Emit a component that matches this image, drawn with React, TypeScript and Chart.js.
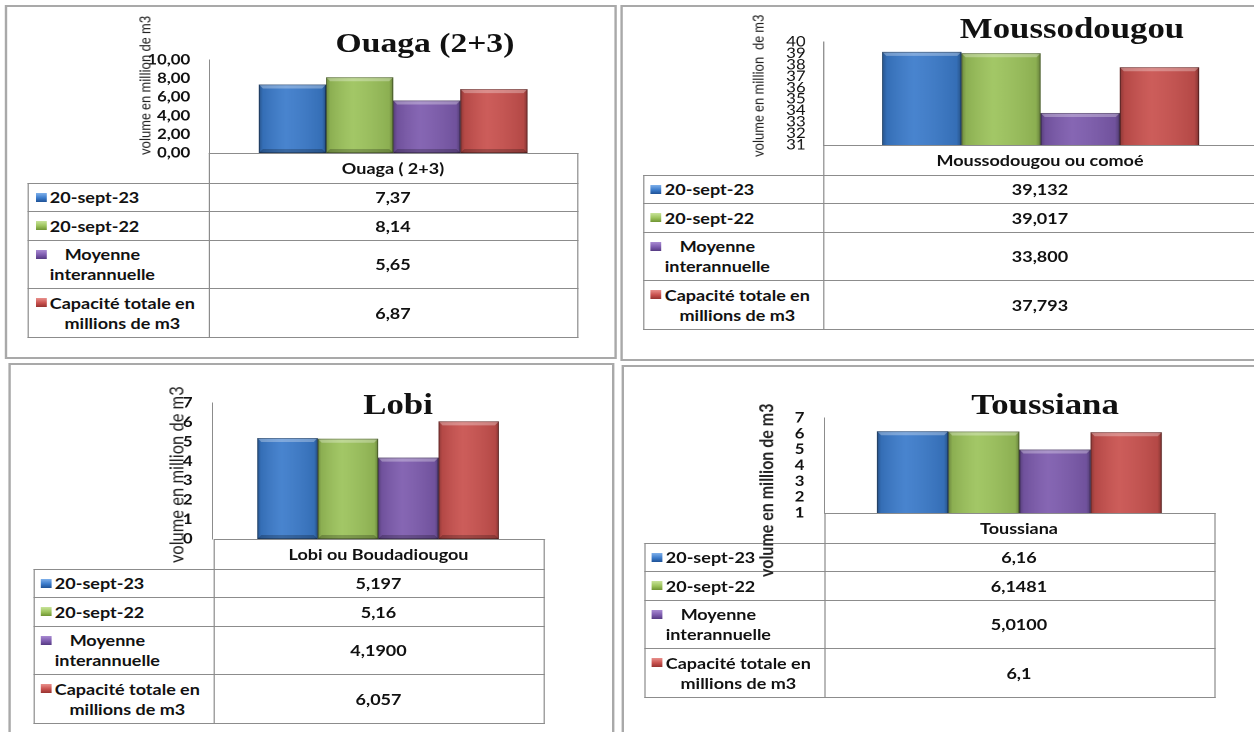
import React, { useEffect, useRef } from 'react';
import { Chart, registerables } from 'chart.js';

Chart.register(...registerables);

// The sheet is laid out narrow and stretched sideways as a whole.
const S = 1.2;

const seriesNames: string[][] = [
  ['20-sept-23'],
  ['20-sept-22'],
  ['Moyenne', 'interannuelle'],
  ['Capacité totale en', 'millions de m3'],
];
const seriesColors = ['#3b7bcb', '#9cc35b', '#7d5bae', '#c9514e'];
const keyTop = ['#7fb0ea', '#c8e39a', '#a98bd2', '#e8908c'];
const keyBottom = ['#1f5296', '#6f9433', '#553a82', '#973330'];

const ouagaValues = [7.37, 8.14, 5.65, 6.87];
const ouagaDecimals = [2, 2, 2, 2];
const ouagaTicks = [0, 2, 4, 6, 8, 10];

const moussoValues = [39.132, 39.017, 33.8, 37.793];
const moussoDecimals = [3, 3, 3, 3];
const moussoTicks = [31, 32, 33, 34, 35, 36, 37, 38, 39, 40];

const lobiValues = [5.197, 5.16, 4.19, 6.057];
const lobiDecimals = [3, 2, 4, 3];
const lobiTicks = [0, 1, 2, 3, 4, 5, 6, 7];

const toussianaValues = [6.16, 6.1481, 5.01, 6.1];
const toussianaDecimals = [2, 4, 4, 1];
const toussianaTicks = [1, 2, 3, 4, 5, 6, 7];

const ROW_H = [30, 28, 29, 48, 49];
// Room above and below the plot for the end tick labels plus their padding.
const PAD_T = 30;
const PAD_B = 30;

type PanelSpec = {
  id: string;
  title: string;
  category: string;
  yTitle: string;
  values: number[];
  decimals: number[];
  ticks: number[];
  tickDecimals: number;
  tickSize: number;
  tickWeight: string;
  tickPad: number;
  frame: [number, number, number, number];
  axisX: number;
  right: number;
  tableLeft: number;
  axisTop: number;
  zeroY: number;
  titleX: number;
  titleBase: number;
  titleSize: number;
  yTitleX: number;
  yTitleBottom: number;
  yTitleSize: number;
  yTitleWeight: number;
};

const panels: PanelSpec[] = [
  {
    id: 'ouaga', title: 'Ouaga (2+3)', category: 'Ouaga ( 2+3)', yTitle: 'volume en million de m3',
    values: ouagaValues, decimals: ouagaDecimals, ticks: ouagaTicks, tickDecimals: 2,
    tickSize: 14, tickWeight: 'bold', tickPad: 19,
    frame: [5, 5, 617, 359], axisX: 209, right: 577, tableLeft: 28, axisTop: 60, zeroY: 153,
    titleX: 425, titleBase: 50, titleSize: 28,
    yTitleX: 144.5, yTitleBottom: 155, yTitleSize: 13, yTitleWeight: 400,
  },
  {
    id: 'mousso', title: 'Moussodougou', category: 'Moussodougou ou comoé', yTitle: 'volume en million  de m3',
    values: moussoValues, decimals: moussoDecimals, ticks: moussoTicks, tickDecimals: 0,
    tickSize: 14, tickWeight: 'normal', tickPad: 18,
    frame: [620, 5, 1266, 361], axisX: 823, right: 1257, tableLeft: 643, axisTop: 42, zeroY: 145,
    titleX: 1072, titleBase: 36, titleSize: 29,
    yTitleX: 757, yTitleBottom: 157, yTitleSize: 13, yTitleWeight: 400,
  },
  {
    id: 'lobi', title: 'Lobi', category: 'Lobi ou Boudadiougou', yTitle: 'volume en million de m3',
    values: lobiValues, decimals: lobiDecimals, ticks: lobiTicks, tickDecimals: 0,
    tickSize: 14, tickWeight: 'bold', tickPad: 20,
    frame: [8, 363, 615, 745], axisX: 213, right: 544, tableLeft: 33, axisTop: 403, zeroY: 539,
    titleX: 398, titleBase: 412, titleSize: 29,
    yTitleX: 176.5, yTitleBottom: 563, yTitleSize: 16.5, yTitleWeight: 400,
  },
  {
    id: 'toussiana', title: 'Toussiana', category: 'Toussiana', yTitle: 'volume en million de m3',
    values: toussianaValues, decimals: toussianaDecimals, ticks: toussianaTicks, tickDecimals: 0,
    tickSize: 14, tickWeight: 'bold', tickPad: 20,
    frame: [622, 365, 1266, 745], axisX: 824, right: 1214, tableLeft: 644, axisTop: 418, zeroY: 513,
    titleX: 1045, titleBase: 412, titleSize: 29,
    yTitleX: 766, yTitleBottom: 577, yTitleSize: 16, yTitleWeight: 700,
  },
];

const fmt = (v: number, d: number) => v.toFixed(d).replace('.', ',');
const X = (x: number) => x / S;

const TABLE_FONT = 'Lato, "Open Sans", sans-serif';
const LINE = '#8c8c8c';

// Shades each bar like a bevelled Office column: dark sides, light top edge, dark foot.
const bevelPlugin = {
  id: 'bevelBars',
  afterDatasetsDraw(chart: any) {
    const ctx: CanvasRenderingContext2D = chart.ctx;
    const area = chart.chartArea;
    ctx.save();
    ctx.beginPath();
    ctx.rect(area.left, area.top, area.right - area.left, area.bottom - area.top);
    ctx.clip();
    chart.data.datasets.forEach((_: any, di: number) => {
      const meta = chart.getDatasetMeta(di);
      meta.data.forEach((el: any) => {
        const { x, y, base, width } = el.getProps(['x', 'y', 'base', 'width'], true);
        const l = x - width / 2;
        const r = x + width / 2;
        const t = Math.min(y, base);
        const b = Math.max(y, base);
        const w = r - l;
        const h = b - t;
        const g = ctx.createLinearGradient(l, 0, r, 0);
        g.addColorStop(0, 'rgba(0,0,0,0.30)');
        g.addColorStop(0.06, 'rgba(0,0,0,0.10)');
        g.addColorStop(0.4, 'rgba(255,255,255,0.07)');
        g.addColorStop(0.94, 'rgba(0,0,0,0.10)');
        g.addColorStop(1, 'rgba(0,0,0,0.34)');
        ctx.fillStyle = g;
        ctx.fillRect(l, t, w, h);
        const bv = Math.min(4, h / 3);
        const bx = bv / S;
        ctx.fillStyle = 'rgba(255,255,255,0.30)';
        ctx.beginPath();
        ctx.moveTo(l, t);
        ctx.lineTo(r, t);
        ctx.lineTo(r - bx, t + bv);
        ctx.lineTo(l + bx, t + bv);
        ctx.closePath();
        ctx.fill();
        ctx.fillStyle = 'rgba(0,0,0,0.22)';
        ctx.beginPath();
        ctx.moveTo(l, b);
        ctx.lineTo(r, b);
        ctx.lineTo(r - bx, b - bv);
        ctx.lineTo(l + bx, b - bv);
        ctx.closePath();
        ctx.fill();
        ctx.strokeStyle = 'rgba(0,0,0,0.35)';
        ctx.lineWidth = 0.8;
        ctx.strokeRect(l + 0.4, t + 0.4, w - 0.8, h - 0.8);
      });
    });
    ctx.restore();
  },
};

function BarPanelChart({ p }: { p: PanelSpec }) {
  const ref = useRef<HTMLCanvasElement>(null);
  const W = Math.round((p.right - p.axisX + 95) / S);
  const left = X(p.right) - W;
  const axisW = X(p.axisX) - left;
  const top = p.axisTop - PAD_T;
  const H = p.zeroY - p.axisTop + PAD_T + PAD_B;

  useEffect(() => {
    const chart = new Chart(ref.current as HTMLCanvasElement, {
      type: 'bar',
      data: {
        labels: [p.category],
        datasets: p.values.map((v, i) => ({
          label: seriesNames[i].join(' '),
          data: [v],
          backgroundColor: seriesColors[i],
          borderWidth: 0,
        })),
      },
      options: {
        animation: false,
        responsive: false,
        maintainAspectRatio: false,
        devicePixelRatio: 2,
        layout: { padding: { top: PAD_T, bottom: PAD_B, left: 0, right: 0 } },
        plugins: {
          legend: { display: false },
          title: { display: false },
          tooltip: { enabled: false },
        },
        datasets: { bar: { categoryPercentage: 0.73, barPercentage: 1 } },
        scales: {
          x: { display: false },
          y: {
            min: p.ticks[0],
            max: p.ticks[p.ticks.length - 1],
            afterBuildTicks: (s: any) => {
              s.ticks = p.ticks.map((v) => ({ value: v }));
            },
            afterFit: (s: any) => {
              s.width = axisW;
            },
            grid: { display: false, drawTicks: false },
            border: { display: true, color: LINE, width: 1 },
            ticks: {
              autoSkip: false,
              padding: X(p.tickPad),
              color: '#111',
              font: { family: 'Lato', size: p.tickSize, weight: p.tickWeight as any },
              callback: (v: any) => fmt(Number(v), p.tickDecimals),
            },
          },
        },
      } as any,
      plugins: [bevelPlugin],
    });
    return () => chart.destroy();
  }, []);

  return (
    <canvas
      ref={ref}
      width={W}
      height={H}
      style={{ position: 'absolute', left, top }}
    />
  );
}

function HLine({ l, r, y }: { l: number; r: number; y: number }) {
  return <div style={{ position: 'absolute', left: X(l), top: y, width: X(r - l) + 1, height: 1, background: LINE }} />;
}

function VLine({ x, t, b }: { x: number; t: number; b: number }) {
  return <div style={{ position: 'absolute', left: X(x), top: t, width: 1, height: b - t + 1, background: LINE }} />;
}

function Panel({ p }: { p: PanelSpec }) {
  const rowTops: number[] = [];
  let y = p.zeroY;
  ROW_H.forEach((h) => {
    rowTops.push(y);
    y += h;
  });
  const bottom = y;
  const [fl, ft, fr, fb] = p.frame;

  return (
    <>
      <div
        style={{
          position: 'absolute', left: X(fl), top: ft, width: X(fr - fl), height: fb - ft,
          border: '2px solid #a9a9a9', boxSizing: 'border-box', background: '#fff',
        }}
      />
      <BarPanelChart p={p} />
      {/* data table below the plot */}
      {rowTops.map((ry, i) => (
        <HLine key={'h' + i} l={i === 0 ? p.axisX : p.tableLeft} r={p.right} y={ry} />
      ))}
      <HLine l={p.tableLeft} r={p.right} y={bottom} />
      <VLine x={p.tableLeft} t={rowTops[1]} b={bottom} />
      <VLine x={p.axisX} t={p.zeroY} b={bottom} />
      <VLine x={p.right} t={p.zeroY} b={bottom} />
      <div
        style={{
          position: 'absolute', left: X(p.axisX), top: rowTops[0], width: X(p.right - p.axisX), height: ROW_H[0],
          display: 'flex', alignItems: 'center', justifyContent: 'center',
          font: `bold 15px ${TABLE_FONT}`, color: '#111', whiteSpace: 'nowrap',
        }}
      >
        {p.category}
      </div>
      {p.values.map((v, i) => (
        <React.Fragment key={'r' + i}>
          <div
            style={{
              position: 'absolute', left: X(p.tableLeft), top: rowTops[i + 1], width: X(p.axisX - p.tableLeft),
              height: ROW_H[i + 1], display: 'flex', alignItems: 'center',
              font: `bold 15px ${TABLE_FONT}`, color: '#111', lineHeight: '20px', whiteSpace: 'nowrap',
            }}
          >
            <div style={{ display: 'flex', alignItems: 'flex-start', marginLeft: X(8) }}>
              <span
                style={{
                  display: 'block', flex: 'none', width: 9, height: 9, marginTop: 5.5,
                  background: `linear-gradient(to bottom, ${keyTop[i]}, ${seriesColors[i]} 55%, ${keyBottom[i]})`,
                }}
              />
              <div style={{ marginLeft: X(3), textAlign: 'center' }}>
                {seriesNames[i].map((line, k) => (
                  <div key={k}>{line}</div>
                ))}
              </div>
            </div>
          </div>
          <div
            style={{
              position: 'absolute', left: X(p.axisX), top: rowTops[i + 1], width: X(p.right - p.axisX),
              height: ROW_H[i + 1], display: 'flex', alignItems: 'center', justifyContent: 'center',
              font: `bold 15px ${TABLE_FONT}`, color: '#111',
            }}
          >
            {fmt(v, p.decimals[i])}
          </div>
        </React.Fragment>
      ))}
      <div
        style={{
          position: 'absolute', left: X(p.titleX), top: p.titleBase - 0.8375 * p.titleSize,
          transform: 'translateX(-50%)', whiteSpace: 'nowrap', lineHeight: 1,
          font: `bold ${p.titleSize}px "Liberation Serif", "Times New Roman", serif`, color: '#111',
        }}
      >
        {p.title}
      </div>
      <div
        style={{
          position: 'absolute', left: X(p.yTitleX), top: p.yTitleBottom, transformOrigin: '0 0',
          transform: 'rotate(-90deg) translate(0, -50%)', whiteSpace: 'pre', lineHeight: 1,
          font: `${p.yTitleWeight} ${p.yTitleSize}px ${TABLE_FONT}`, color: '#222',
        }}
      >
        {p.yTitle}
      </div>
    </>
  );
}

export default function App() {
  useEffect(() => {
    document.body.style.margin = '0';
    document.body.style.overflow = 'hidden';
  }, []);
  return (
    <div
      style={{
        position: 'absolute', left: 0, top: 0, width: 1254 / S, height: 732, overflow: 'hidden',
        transform: `scaleX(${S})`, transformOrigin: '0 0', background: '#fff',
      }}
    >
      {panels.map((p) => (
        <Panel key={p.id} p={p} />
      ))}
    </div>
  );
}
